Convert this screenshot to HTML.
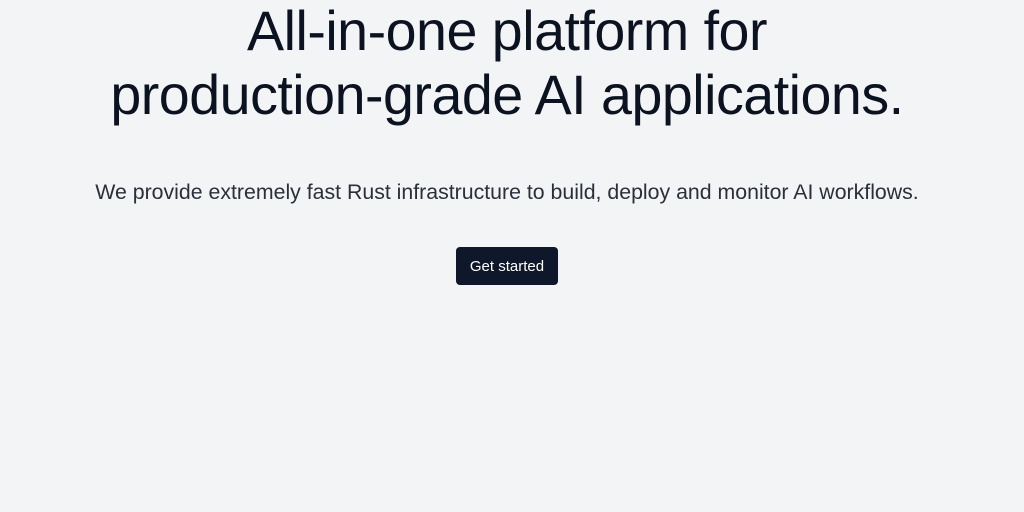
<!DOCTYPE html>
<html><head><style>
html,body{margin:0;padding:0;width:1024px;height:512px;background:#f3f4f6;overflow:hidden;font-family:"Liberation Sans",sans-serif;}
h1{position:absolute;top:-1px;left:0;width:1014px;margin:0;text-align:center;font-weight:400;font-size:55.6px;line-height:64px;color:#0b1220;letter-spacing:-0.5px;}
p{position:absolute;top:180px;left:0;width:1014px;margin:0;text-align:center;font-size:21.3px;color:#2a2f3a;font-weight:300;}
.btn{position:absolute;left:456px;top:247px;width:102px;height:38px;background:#0f172a;border-radius:4px;color:#fff;font-size:15px;line-height:40px;text-align:center;}
</style></head><body>
<h1>All-in-one platform for<br>production-grade AI applications.</h1>
<p>We provide extremely fast Rust infrastructure to build, deploy and monitor AI workflows.</p>
<div class="btn">Get started</div>
</body></html>
